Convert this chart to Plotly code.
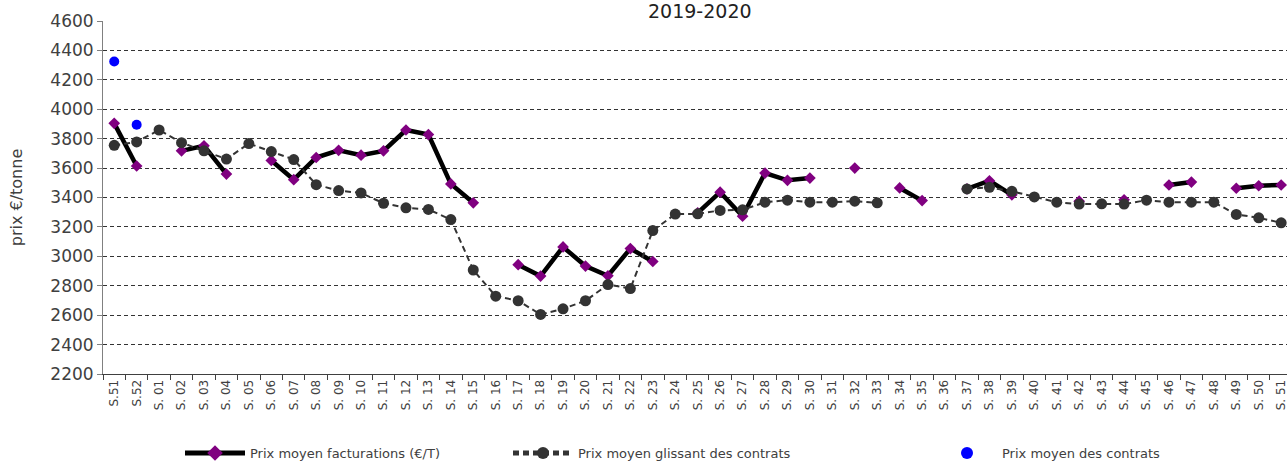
import plotly.graph_objects as go

semaines = ["S.51", "S.52"] + ["S. %02d" % i for i in range(1, 52)]

facturations = [3904, 3614, None, 3717, 3751, 3559, None, 3652, 3521, 3672,
                3721, 3688, 3717, 3859, 3828, 3492, 3364, None, 2943, 2866,
                3064, 2934, 2868, 3053, 2965, None, 3295, 3436, 3273, 3566,
                3517, 3532, None, 3600, None, 3465, 3379, None, 3458, 3514,
                3418, None, None, 3375, None, 3384, None, 3485, 3505, None,
                3463, 3480, 3485]

glissant = [3755, 3778, 3859, 3773, 3717, 3661, 3767, 3712, 3658, 3487,
            3447, 3431, 3361, 3330, 3319, 3250, 2907, 2729, 2698, 2605,
            2643, 2698, 2808, 2781, 3175, 3287, 3289, 3312, 3316, 3368,
            3382, 3368, 3368, 3375, 3364, None, None, None, 3458, 3469,
            3442, 3404, 3368, 3355, 3357, 3355, 3382, 3368, 3368, 3368,
            3285, 3262, 3228]

contrats = [4325, 3895] + [None] * 51

y_ticks = list(range(2200, 4601, 200))

x = list(range(len(semaines)))
FONT = "DejaVu Sans"
TXT = "#404040"

fig = go.Figure()
fig.add_trace(go.Scatter(
    x=x, y=facturations, name="Prix moyen facturations (€/T)",
    mode="lines+markers", connectgaps=False, legend="legend",
    line=dict(color="#000000", width=4.5),
    marker=dict(symbol="diamond", size=9, color="#800080"),
))
fig.add_trace(go.Scatter(
    x=x, y=glissant, name="Prix moyen glissant des contrats",
    mode="lines+markers", connectgaps=False, legend="legend2",
    line=dict(color="#333333", width=2, dash="6px,4px"),
    marker=dict(symbol="circle", size=11, color="#333333"),
))
fig.add_trace(go.Scatter(
    x=x, y=contrats, name="Prix moyen des contrats",
    mode="markers", legend="legend3",
    marker=dict(symbol="circle", size=10, color="#0000FF"),
))

def leg(xpix, itemwidth):
    return dict(
        xref="container", yref="container",
        x=xpix / 1287, xanchor="left", y=(462 - 453) / 462, yanchor="middle",
        orientation="h", itemwidth=itemwidth, itemsizing="constant",
        font=dict(family=FONT, size=13, color=TXT),
        bgcolor="rgba(0,0,0,0)", borderwidth=0,
    )

fig.update_layout(
    width=1287, height=462,
    margin=dict(l=103, r=0, t=21, b=88, autoexpand=False),
    paper_bgcolor="white", plot_bgcolor="white",
    font=dict(family=FONT, color=TXT),
    showlegend=True,
    legend=leg(180, 60),
    legend2=leg(508, 60),
    legend3=leg(932, 60),
    annotations=[dict(
        text="2019-2020", xref="paper", yref="paper", x=0.5, y=1,
        xanchor="center", yanchor="bottom", yshift=-3, xshift=5,
        showarrow=False, font=dict(family=FONT, size=19, color="#222222"),
    )],
)

fig.update_xaxes(
    range=[-0.5, 52.26], automargin=False,
    tickmode="array", tickvals=x, ticktext=semaines,
    tickangle=-90, tickfont=dict(family=FONT, size=12, color=TXT),
    ticklabeloverflow="allow",
    ticks="", showgrid=False, zeroline=False,
    showline=True, linecolor="#404040", linewidth=1,
    minor=dict(tick0=-0.5, dtick=1, ticks="outside", ticklen=5,
               tickcolor="#404040", showgrid=False),
)
fig.update_yaxes(
    range=[2200, 4600], automargin=False,
    tickmode="array", tickvals=y_ticks,
    tickfont=dict(family=FONT, size=17, color=TXT),
    ticks="outside", ticklen=5, tickcolor="#808080",
    showline=True, linecolor="#808080", linewidth=1,
    showgrid=True, gridcolor="#333333", gridwidth=1, griddash="4px,3px",
    zeroline=False,
    title=dict(text="prix €/tonne", font=dict(family=FONT, size=16, color=TXT),
               standoff=23),
)

fig.write_html("out.html", config={"displayModeBar": False},
               post_script="document.body.style.margin='0';")
